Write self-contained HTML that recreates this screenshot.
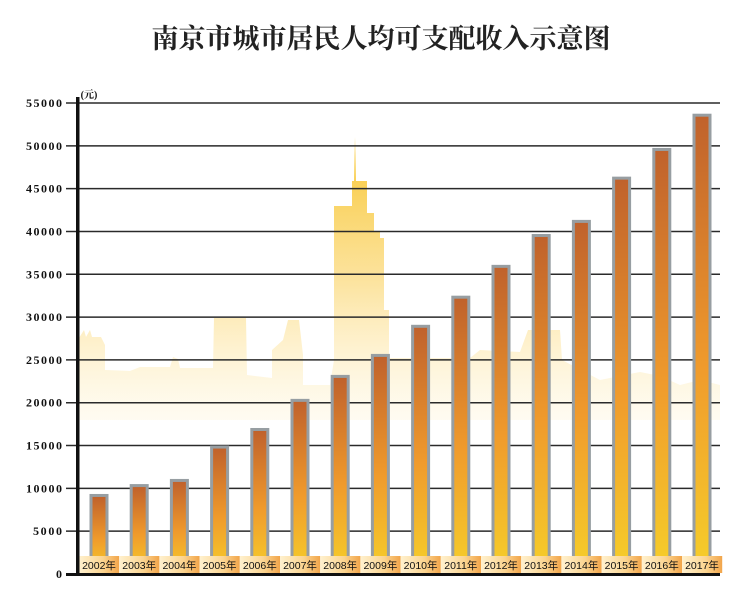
<!DOCTYPE html>
<html><head><meta charset="utf-8"><style>
html,body{margin:0;padding:0;background:#fff;}
svg{display:block;}
</style></head><body>
<svg id="s" width="743" height="599" xmlns="http://www.w3.org/2000/svg">
<defs>
<linearGradient id="skyg" x1="0" y1="130" x2="0" y2="430" gradientUnits="userSpaceOnUse">
<stop offset="0" stop-color="#f8c52c"/>
<stop offset="0.5" stop-color="#fbdc85" stop-opacity="0.8"/>
<stop offset="1" stop-color="#fff6dc" stop-opacity="0.3"/>
</linearGradient>
<linearGradient id="bar" x1="0" y1="0" x2="0" y2="1">
<stop offset="0" stop-color="#c0622c"/>
<stop offset="0.55" stop-color="#f09b2c"/>
<stop offset="1" stop-color="#f6cf2a"/>
</linearGradient>
<linearGradient id="lab" x1="0" y1="0" x2="1" y2="0">
<stop offset="0" stop-color="#fff1cf"/>
<stop offset="0.6" stop-color="#fbd48f"/>
<stop offset="1" stop-color="#f2a54a"/>
</linearGradient>
</defs>
<text x="381" y="48" text-anchor="middle" font-family="'Noto Serif CJK SC',serif" font-weight="bold" font-size="27" fill="#222">南京市城市居民人均可支配收入示意图</text>
<polygon fill="url(#skyg)" points="79,420 79,338 84,330 86,337 90,330 92,337 101,337 105,345 105,370 130,371 140,367 170,367 173,357 178,359 180,368 213,368 214,318 246,318 247,375 272,378 272,350 283,340 288,320 299,320 303,355 303,385 330,385 334,360 334,206 352,206 352,181 354,181 355,137 356,181 367,181 367,213 374,213 374,232 380,232 380,238 384,238 384,310 389,310 389,358 470,358 480,350 520,352 528,330 560,330 562,360 600,380 640,372 660,376 680,385 700,380 720,385 720,420"/>
<g id="g"></g>
<text x="89" y="98" text-anchor="middle" font-family="'Liberation Serif','Noto Serif CJK SC',serif" font-weight="bold" font-size="10" fill="#111">(元)</text>
</svg>
<script>
const g=document.getElementById('g');let h='';
const y0=574,k=471/55000;
const tf=`font-family="'Liberation Serif',serif" font-weight="bold" font-size="12" fill="#111"`;
for(let i=1;i<=11;i++){const y=y0-i*5000*k;
h+=`<line x1="66" x2="720" y1="${y}" y2="${y}" stroke="#2a2a2a" stroke-width="1.5"/>`;
h+=`<text x="62" y="${y+4}" text-anchor="end" ${tf} textLength="${i*5000>=10000?36:29}">${i*5000}</text>`;}
h+=`<text x="62" y="${y0+4}" text-anchor="end" ${tf}>0</text>`;
const v=[9346,10500,11100,15000,17050,20450,23250,25700,29100,32500,36100,39700,41350,46400,49750,53750];
v.forEach((val,i)=>{const cx=99+i*40.2,top=y0-val*k;
h+=`<rect x="${cx-9.5}" y="${top}" width="19" height="${y0-top}" fill="#979ea2"/>`;
h+=`<rect x="${cx-6.5}" y="${top+3}" width="13" height="${y0-top-3}" fill="url(#bar)"/>`;
h+=`<rect x="${79+i*40.2}" y="556" width="40.2" height="17" fill="url(#lab)"/>`;
h+=`<text x="${cx}" y="569" text-anchor="middle" font-family="'Liberation Sans','Noto Sans CJK SC',sans-serif" font-size="10.5" fill="#111">${2002+i}年</text>`;});
h+=`<rect x="76" y="97" width="3.5" height="479" fill="#111"/><rect x="66" y="573" width="654" height="3" fill="#111"/>`;
g.innerHTML=h;
</script>
</body></html>
